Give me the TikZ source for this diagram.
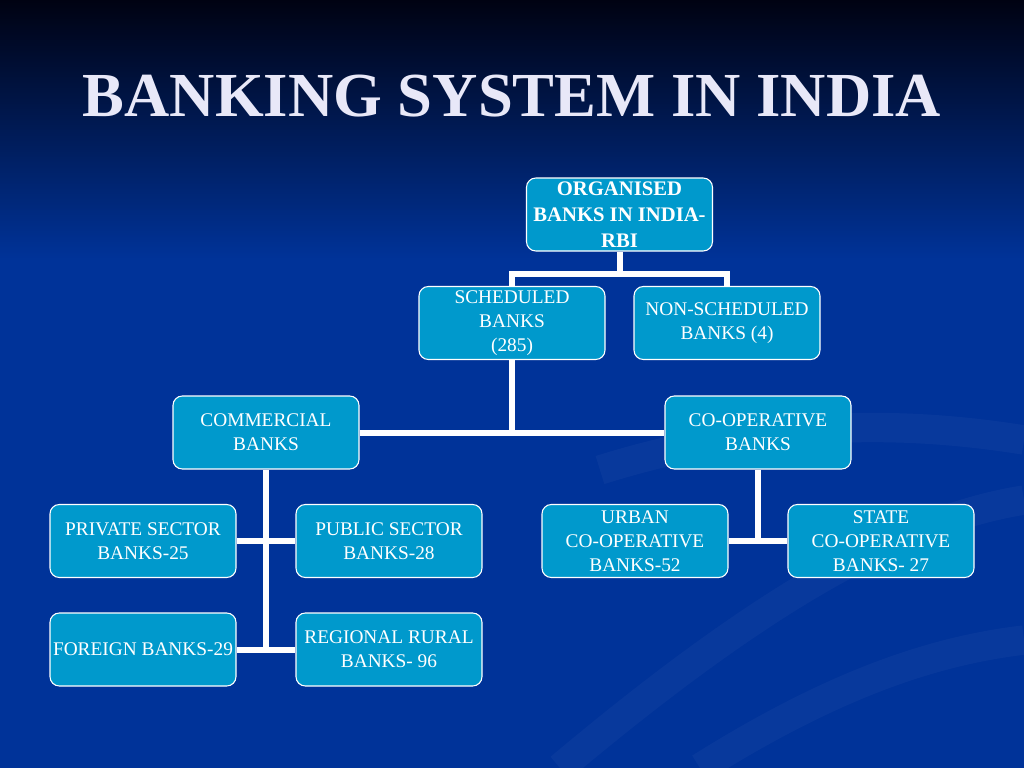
\documentclass[tikz,border=0pt]{standalone}
\usepackage{fontspec}
\setmainfont{Liberation Serif}
\usepackage{tikz}
\usetikzlibrary{positioning,calc}
\definecolor{fond}{RGB}{0,51,153}
\definecolor{fondhaut}{RGB}{0,2,18}
\definecolor{boite}{RGB}{0,153,204}
\definecolor{titre}{RGB}{232,232,248}

\begin{document}
\begin{tikzpicture}[x=0.75pt,y=-0.75pt]
%styles : boites, liens et fond
\tikzset{banque/.style={draw=white,fill=boite,rounded corners=7pt,line width=0.8pt,minimum width=139.5pt,minimum height=54.75pt,inner sep=0pt,align=center,text=white,font=\fontsize{14.5}{18}\selectfont}}
\tikzset{lien/.style={white,line width=4.5pt}}
\tikzset{volute/.style={white,opacity=0.03,line width=22pt}}
\useasboundingbox (0,0) rectangle (1024,768);
\fill[fond] (0,0) rectangle (1024,768);
\shade[top color=fondhaut,bottom color=fond] (0,0) rectangle (1024,260); %dégradé du haut
\draw[volute] (560,768) .. controls (760,600) and (900,520) .. (1024,500);
\draw[volute] (700,768) .. controls (840,680) and (940,650) .. (1024,640);
\draw[volute] (600,470) .. controls (760,420) and (900,420) .. (1024,440);
% titre
\node[text=titre,font=\fontsize{47}{52}\bfseries] (titre) at (512,96) {BANKING SYSTEM IN INDIA};
% boites
\node[banque,font=\fontsize{15.5}{19.5}\bfseries] (ORG) at (619.5,214.5) {ORGANISED\\BANKS IN INDIA-\\RBI};
\node[banque] (SCHED) at (512,323) {SCHEDULED\\BANKS\\(285)};
\node[banque] (NONSCHED) at (727,323) {NON-SCHEDULED\\BANKS (4)};
\node[banque] (COMM) at (266,432.5) {COMMERCIAL\\BANKS};
\node[banque] (COOP) at (758,432.5) {CO-OPERATIVE\\BANKS};
\node[banque] (PRIV) at (143,541) {PRIVATE SECTOR\\BANKS-25};
\node[banque] (PUB) at (389,541) {PUBLIC SECTOR\\BANKS-28};
\node[banque] (FOR) at (143,649.5) {FOREIGN BANKS-29};
\node[banque] (RRB) at (389,649.5) {REGIONAL RURAL\\BANKS- 96};
\node[banque] (URBAN) at (635,541) {URBAN\\CO-OPERATIVE\\BANKS-52};
\node[banque] (STATE) at (881,541) {STATE\\CO-OPERATIVE\\BANKS- 27};
% liens
\coordinate (b1) at ($(ORG.south)+(0,22)$);
\draw[lien] (ORG.south) -- (b1);
\draw[lien] (SCHED.north) |- (b1) -| (NONSCHED.north);
\draw[lien] (SCHED.south) -- (SCHED.south |- COMM.east);
\draw[lien] (COMM.east) -- (COOP.west);
\draw[lien] (COMM.south) -- ($(COMM.south |- FOR.east)+(0,3)$);
\draw[lien] (PRIV.east) -- (PUB.west);
\draw[lien] (FOR.east) -- (RRB.west);
\draw[lien] (COOP.south) -- ($(COOP.south |- URBAN.east)+(0,3)$);
\draw[lien] (URBAN.east) -- (STATE.west);
\end{tikzpicture}
\end{document}
